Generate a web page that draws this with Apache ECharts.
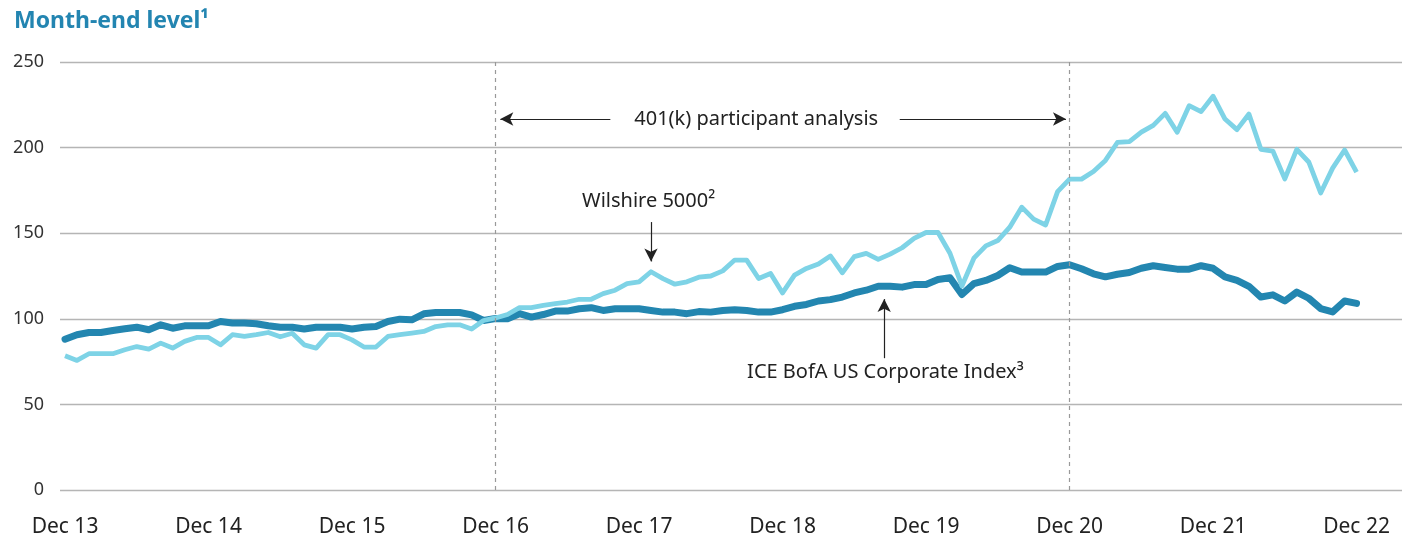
<!DOCTYPE html>
<html>
<head>
<meta charset="utf-8">
<script src="https://cdn.jsdelivr.net/npm/echarts@6/dist/echarts.min.js"></script>
<style>
  html, body { margin: 0; padding: 0; background: #fff; }
  #chart { width: 1410px; height: 541px; }
</style>
</head>
<body>
<div id="chart"></div>
<script>
// month index 0 = Dec 13 ... 108 = Dec 22
const tickLabels = ['Dec 13', 'Dec 14', 'Dec 15', 'Dec 16', 'Dec 17', 'Dec 18', 'Dec 19', 'Dec 20', 'Dec 21', 'Dec 22']
const tickIdx = [0, 12, 24, 36, 48, 60, 72, 84, 96, 108]

const wilshire = [
  78.4, 75.7, 79.6, 79.6, 79.6, 81.9, 83.8, 82.3, 85.8, 82.9, 86.8, 89.1,
  89.1, 84.8, 90.7, 89.7, 90.7, 92, 89.5, 91.6, 84.8, 82.9, 90.7, 90.7,
  87.7, 83.5, 83.5, 89.7, 90.7, 91.6, 92.6, 95.5, 96.5, 96.5, 94, 99,
  100.5, 102.5, 106.5, 106.5, 107.8, 108.8, 109.8, 111.4, 111.4, 114.7, 116.7, 120.6,
  121.6, 127.5, 123.5, 120.2, 121.6, 124.3, 125, 128, 134.3, 134.3, 123.5, 126.5,
  115.1, 125.5, 129.4, 132, 136.7, 126.9, 136.3, 138.2, 134.7, 137.8, 141.5, 147,
  150.4, 150.4, 138.3, 119.2, 135.4, 142.6, 145.7, 153.5, 165.2, 158.2, 154.8, 174.3,
  181.6, 181.6, 186, 192.5, 203, 203.5, 209, 213, 220, 209, 224.5, 221,
  230, 216.7, 210.5, 219.6, 199, 198, 181.7, 199, 191.6, 173.5, 188, 198.6,
  185.7
]
const iceBofa = [
  88.1, 90.7, 92, 92, 93.2, 94.2, 95.1, 93.6, 96.5, 94.5, 95.9, 95.9,
  95.9, 98.4, 97.5, 97.5, 97.1, 95.9, 95.1, 95.1, 94, 95.1, 95.1, 95.1,
  94, 95.1, 95.5, 98.4, 99.8, 99.4, 102.9, 103.7, 103.7, 103.7, 102.3, 99,
  100.2, 100, 103, 101, 102.5, 104.5, 104.5, 105.9, 106.5, 104.9, 105.9, 105.9,
  105.9, 104.9, 103.9, 103.9, 103, 104.2, 103.9, 104.9, 105.3, 104.9, 103.9, 103.9,
  105.3, 107.3, 108.4, 110.4, 111.2, 112.7, 115.1, 116.7, 119, 119, 118.5, 120,
  120, 123, 124, 114.2, 120.5, 122.4, 125.3, 129.8, 127.3, 127.3, 127.3, 130.6,
  131.6, 129.2, 126.3, 124.5, 126, 127, 129.5, 131, 130, 129, 129, 131,
  129.5, 124.5, 122.5, 119, 112.7, 114, 110.4, 115.6, 112, 106, 104, 110.4,
  109
]

const font = '"Noto Sans", sans-serif'
const chart = echarts.init(document.getElementById('chart'))

const toPairs = (arr) => arr.map((v, i) => [i, v])

const option = {
  animation: false,
  title: {
    text: 'Month-end level¹',
    left: 9,
    top: 5,
    textStyle: { color: '#2385b1', fontSize: 23, fontWeight: 'bold', fontFamily: font }
  },
  grid: { left: 60, right: 8, top: 62, bottom: 51 },
  xAxis: {
    type: 'value',
    min: -0.42,
    max: 111.8,
    axisLine: { show: false },
    axisTick: { show: false },
    splitLine: { show: false },
    axisLabel: {
      customValues: tickIdx,
      color: '#222',
      fontSize: 21,
      fontFamily: font,
      margin: 27,
      formatter: (v) => tickLabels[tickIdx.indexOf(Math.round(v))] || ''
    }
  },
  yAxis: {
    type: 'value',
    min: 0,
    max: 250,
    interval: 50,
    axisLine: { show: false },
    axisTick: { show: false },
    axisLabel: { color: '#333', fontSize: 18, fontFamily: font, margin: 16 },
    splitLine: { lineStyle: { color: '#b5b5b5', width: 1.3 } }
  },
  series: [
    {
      name: 'ICE BofA US Corporate Index',
      type: 'line',
      data: toPairs(iceBofa),
      showSymbol: false,
      lineStyle: { color: '#2386b0', width: 7, cap: 'round', join: 'round' },
      z: 3,
      markLine: {
        silent: true,
        symbol: ['none', 'none'],
        label: { show: false },
        lineStyle: { color: '#999', type: [4, 4], width: 1.2 },
        data: [{ xAxis: 36 }, { xAxis: 84 }]
      }
    },
    {
      name: 'Wilshire 5000',
      type: 'line',
      data: toPairs(wilshire),
      showSymbol: false,
      lineStyle: { color: '#7ed3e6', width: 4.8, join: 'round' },
      z: 4
    },
    {
      // annotations
      type: 'line',
      data: [],
      markLine: {
        silent: true,
        symbolSize: [10, 13],
        label: { show: false },
        lineStyle: { color: '#222', type: 'solid', width: 1.2 },
        data: [
          [{ coord: [45.6, 216.7], symbol: 'none' }, { coord: [36.4, 216.7], symbol: 'arrow' }],
          [{ coord: [69.8, 216.7], symbol: 'none' }, { coord: [83.7, 216.7], symbol: 'arrow' }],
          [{ coord: [49, 156.5], symbol: 'none' }, { coord: [49, 133.5], symbol: 'arrow' }],
          [{ coord: [68.5, 77], symbol: 'none' }, { coord: [68.5, 111.5], symbol: 'arrow' }]
        ]
      },
      markPoint: {
        silent: true,
        symbol: 'circle',
        symbolSize: 0,
        label: { show: true, position: 'inside', color: '#222', fontSize: 20, fontFamily: font },
        data: [
          { coord: [57.8, 216.7], label: { formatter: '401(k) participant analysis' } },
          { coord: [48.8, 168.8], label: { formatter: 'Wilshire 5000²' } },
          { coord: [68.6, 68.9], label: { formatter: 'ICE BofA US Corporate Index³' } }
        ]
      }
    }
  ]
}

chart.setOption(option)
</script>
</body>
</html>
